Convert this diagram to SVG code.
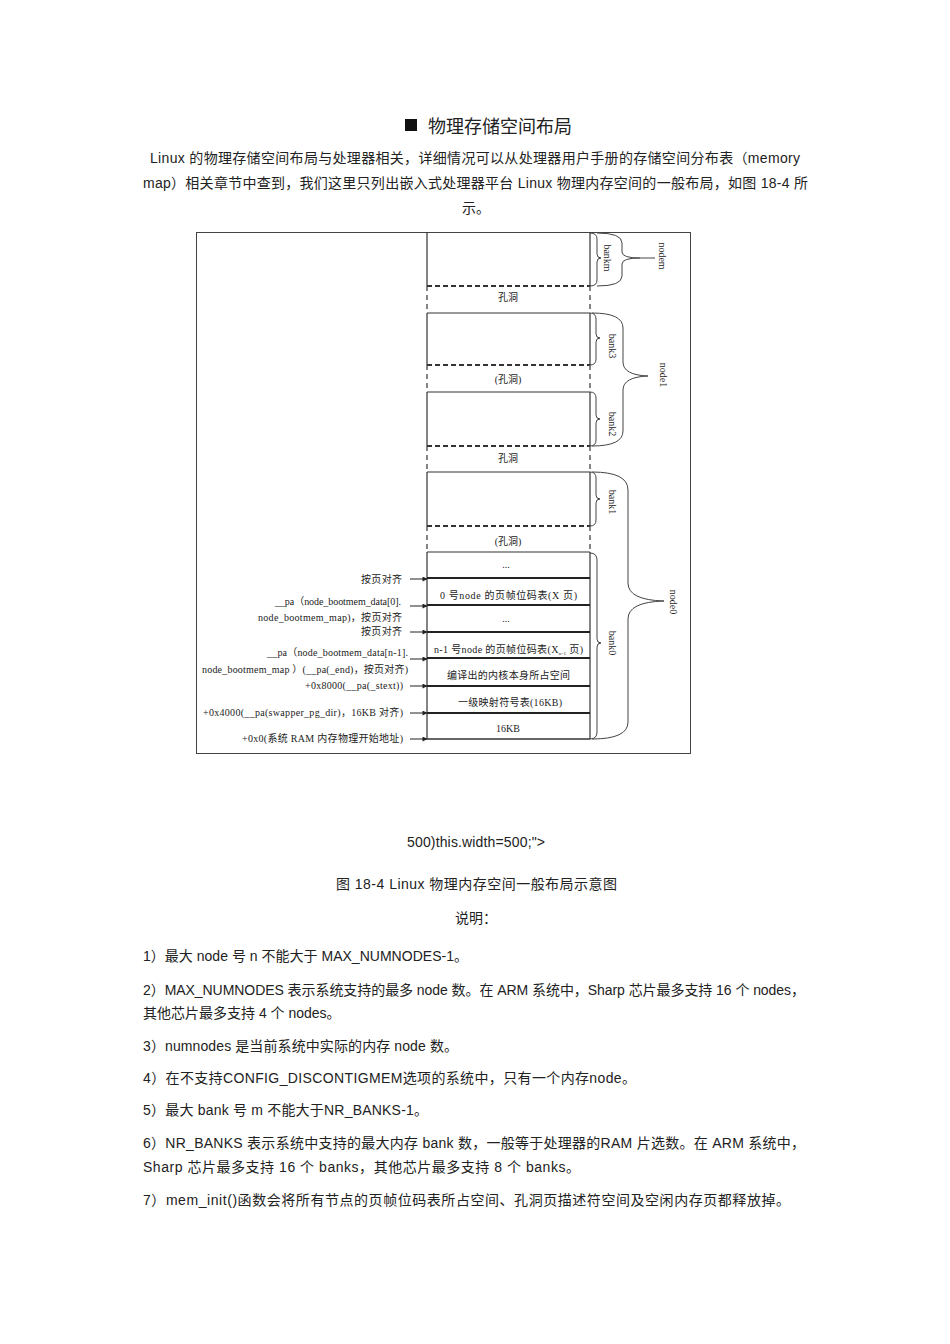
<svg xmlns="http://www.w3.org/2000/svg" width="950" height="1344" viewBox="0 0 950 1344">
<defs>
<style>
.body{font-family:"Liberation Sans","Noto Sans CJK SC",sans-serif;font-size:14px;fill:#222}
.dg{font-family:"Liberation Serif","Noto Sans CJK SC",serif;font-size:10px;fill:#222}
.solid{stroke:#333;stroke-width:1.2;fill:none}
.thick{stroke:#222;stroke-width:2;fill:none}
.dashT{stroke:#333;stroke-width:2;stroke-dasharray:5 3;fill:none}
.dashS{stroke:#444;stroke-width:1.3;stroke-dasharray:5 4;fill:none}
.brace{stroke:#444;stroke-width:1;fill:none}
.arr{stroke:#222;stroke-width:1;fill:none}
</style>
<marker id="ah" viewBox="0 0 10 10" refX="9" refY="5" markerWidth="7" markerHeight="5" orient="auto" markerUnits="userSpaceOnUse">
<path d="M0,0 L10,5 L0,10 z" fill="#222"/>
</marker>
</defs>
<rect width="950" height="1344" fill="#fff"/>

<g id="title">
<rect x="405" y="119" width="12" height="12" fill="#111"/>
<text x="428" y="133" class="body" style="font-size:18px" fill="#111">物理存储空间布局</text>
</g>
<g id="intro">
<text x="150" y="163" class="body" textLength="650">Linux 的物理存储空间布局与处理器相关，详细情况可以从处理器用户手册的存储空间分布表（memory</text>
<text x="143" y="188" class="body" textLength="665">map）相关章节中查到，我们这里只列出嵌入式处理器平台 Linux 物理内存空间的一般布局，如图 18-4 所</text>
<text x="476" y="213" class="body" text-anchor="middle">示。</text>
</g>

<g id="frame">
<rect x="196.5" y="232.5" width="494" height="521" fill="none" stroke="#444" stroke-width="1"/>
</g>

<g id="column">
<path class="solid" d="M427,232 V286 M590,232 V286"/>
<path class="dashT" d="M427,286 H590"/>
<path class="dashS" d="M427,286 V313 M590,286 V313"/>
<path class="solid" d="M427,313 H590"/>
<path class="solid" d="M427,313 V365 M590,313 V365"/>
<path class="dashT" d="M427,365 H590"/>
<path class="dashS" d="M427,365 V392 M590,365 V392"/>
<path class="solid" d="M427,392 H590"/>
<path class="solid" d="M427,392 V446 M590,392 V446"/>
<path class="dashT" d="M427,446 H590"/>
<path class="dashS" d="M427,446 V472 M590,446 V472"/>
<path class="solid" d="M427,472 H590"/>
<path class="solid" d="M427,472 V526 M590,472 V526"/>
<path class="dashT" d="M427,526 H590"/>
<path class="dashS" d="M427,526 V552 M590,526 V552"/>
<path class="solid" d="M427,552 H590"/>
<path class="solid" d="M427,552 V739 M590,552 V739"/>
<path class="thick" d="M427,578 H590 M427,605 H590 M427,632 H590 M427,658 H590 M427,686 H590 M427,713 H590"/>
<path class="solid" d="M427,739 H590" style="stroke-width:1.6"/>
</g>

<g id="column-labels">
<text x="508" y="301" class="dg" text-anchor="middle">孔洞</text>
<text x="508" y="383" class="dg" text-anchor="middle">(孔洞)</text>
<text x="508" y="462" class="dg" text-anchor="middle">孔洞</text>
<text x="508" y="545" class="dg" text-anchor="middle">(孔洞)</text>
<text x="506" y="568" class="dg" text-anchor="middle">...</text>
<text x="440" y="599" class="dg" textLength="137">0 号node 的页帧位码表(X 页)</text>
<text x="506" y="622" class="dg" text-anchor="middle">...</text>
<text x="434" y="653" class="dg" textLength="149">n-1 号node 的页帧位码表(X<tspan font-size="5" dy="2">n-1</tspan><tspan dy="-2"> 页)</tspan></text>
<text x="447" y="679" class="dg" textLength="123">编译出的内核本身所占空间</text>
<text x="458" y="706" class="dg" textLength="104">一级映射符号表(16KB)</text>
<text x="508" y="732" class="dg" text-anchor="middle">16KB</text>
</g>

<g id="connectors">
<line class="arr" x1="410" y1="579" x2="427" y2="579" marker-end="url(#ah)"/>
<line class="arr" x1="410" y1="606" x2="427" y2="606" marker-end="url(#ah)"/>
<line class="arr" x1="410" y1="632" x2="427" y2="632" marker-end="url(#ah)"/>
<line class="arr" x1="410" y1="659" x2="427" y2="659" marker-end="url(#ah)"/>
<line class="arr" x1="410" y1="686" x2="427" y2="686" marker-end="url(#ah)"/>
<line class="arr" x1="410" y1="713" x2="427" y2="713" marker-end="url(#ah)"/>
<line class="arr" x1="410" y1="739" x2="427" y2="739" marker-end="url(#ah)"/>
</g>

<g id="address-labels">
<text x="361" y="583" class="dg" textLength="41">按页对齐</text>
<text x="275" y="605" class="dg" textLength="126">__pa（node_bootmem_data[0].</text>
<text x="258" y="621" class="dg" textLength="144">node_bootmem_map)，按页对齐</text>
<text x="361" y="635" class="dg" textLength="41">按页对齐</text>
<text x="267" y="656" class="dg" textLength="141">__pa（node_bootmem_data[n-1].</text>
<text x="202" y="673" class="dg" textLength="206">node_bootmem_map ）(__pa(_end)，按页对齐)</text>
<text x="305" y="689" class="dg" textLength="98">+0x8000(__pa(_stext))</text>
<text x="203" y="716" class="dg" textLength="200">+0x4000(__pa(swapper_pg_dir)，16KB 对齐)</text>
<text x="242" y="742" class="dg" textLength="161">+0x0(系统 RAM 内存物理开始地址)</text>
</g>

<g id="bank-braces">
<path class="brace" d="M590,233 Q597,233 597,239 L597,254 Q597,258 601,258 Q597,258 597,262 L597,280 Q597,286 590,286"/>
<path class="brace" d="M590,313 Q596,313 596,319 L596,334 Q596,338 600,338 Q596,338 596,342 L596,359 Q596,365 590,365"/>
<path class="brace" d="M590,392 Q596,392 596,398 L596,415 Q596,419 600,419 Q596,419 596,423 L596,440 Q596,446 590,446"/>
<path class="brace" d="M590,472 Q596,472 596,478 L596,495 Q596,499 600,499 Q596,499 596,503 L596,520 Q596,526 590,526"/>
<path class="brace" d="M590,553 Q597,553 597,560 L597,639 Q597,643 601,643 Q597,643 597,647 L597,732 Q597,739 590,739"/>
</g>
<g id="bank-labels">
<text class="dg" transform="translate(604,258) rotate(90)" text-anchor="middle">bankm</text>
<text class="dg" transform="translate(609,346) rotate(90)" text-anchor="middle">bank3</text>
<text class="dg" transform="translate(609,424) rotate(90)" text-anchor="middle">bank2</text>
<text class="dg" transform="translate(609,502) rotate(90)" text-anchor="middle">bank1</text>
<text class="dg" transform="translate(609,643) rotate(90)" text-anchor="middle">bank0</text>
</g>

<g id="node-braces">
<path class="brace" d="M597,233 Q622,233 622,243 L622,252 Q622,258 640,258 L655,258 M640,258 Q622,258 622,264 L622,276 Q622,286 597,286"/>
<path class="brace" d="M592,313 Q623,313 623,328 L623,362 Q623,375 648,376 Q623,377 623,390 L623,431 Q623,446 592,446"/>
<path class="brace" d="M592,472 Q628,472 628,490 L628,583 Q628,600 664,601 Q628,602 628,619 L628,722 Q628,739 592,739"/>
</g>
<g id="node-labels">
<text class="dg" transform="translate(659,256) rotate(90)" text-anchor="middle">nodem</text>
<text class="dg" transform="translate(660,375) rotate(90)" text-anchor="middle">node1</text>
<text class="dg" transform="translate(670,602) rotate(90)" text-anchor="middle">node0</text>
</g>

<g id="caption">
<text x="407" y="847" class="body" textLength="138">500)this.width=500;"&gt;</text>
<text x="336" y="889" class="body" textLength="281">图 18-4   Linux 物理内存空间一般布局示意图</text>
<text x="476" y="923" class="body" text-anchor="middle">说明：</text>
</g>

<g id="notes">
<text x="143" y="961" class="body" textLength="325">1）最大 node 号 n 不能大于 MAX_NUMNODES-1。</text>
<text x="143" y="995" class="body" textLength="662">2）MAX_NUMNODES 表示系统支持的最多 node 数。在 ARM 系统中，Sharp 芯片最多支持 16 个 nodes，</text>
<text x="143" y="1018" class="body">其他芯片最多支持 4 个 nodes。</text>
<text x="143" y="1051" class="body" textLength="315">3）numnodes 是当前系统中实际的内存 node 数。</text>
<text x="143" y="1083" class="body" textLength="493">4）在不支持CONFIG_DISCONTIGMEM选项的系统中，只有一个内存node。</text>
<text x="143" y="1115" class="body" textLength="285">5）最大 bank 号 m 不能大于NR_BANKS-1。</text>
<text x="143" y="1148" class="body" textLength="662">6）NR_BANKS 表示系统中支持的最大内存 bank 数，一般等于处理器的RAM 片选数。在  ARM 系统中，</text>
<text x="143" y="1172" class="body" textLength="437">Sharp 芯片最多支持 16 个 banks，其他芯片最多支持  8 个 banks。</text>
<text x="143" y="1205" class="body" textLength="647">7）mem_init()函数会将所有节点的页帧位码表所占空间、孔洞页描述符空间及空闲内存页都释放掉。</text>
</g>
</svg>
